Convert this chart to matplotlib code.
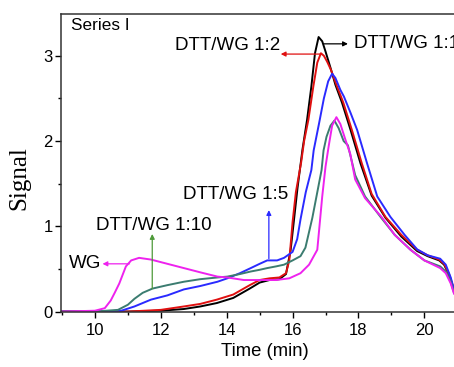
import matplotlib
matplotlib.use("Agg")
import matplotlib.pyplot as plt
from matplotlib.ticker import MultipleLocator

# data (time in min, signal)
t_11 = [9.0, 10.0, 11.0, 12.0, 12.7, 13.2, 13.7, 14.2, 14.7, 15.0, 15.3, 15.6, 15.8,
        15.94, 16.05, 16.15, 16.22, 16.3, 16.44, 16.57, 16.68, 16.79, 16.9, 17.0,
        17.15, 17.3, 17.5, 17.76, 18.06, 18.4, 18.82, 19.3, 19.78, 20.1, 20.45,
        20.6, 20.75, 20.9]
s_11 = [0.0, 0.0, 0.0, 0.01, 0.03, 0.06, 0.1, 0.16, 0.27, 0.34, 0.37, 0.38, 0.44,
        0.72, 1.1, 1.45, 1.66, 1.9, 2.25, 2.64, 3.03, 3.22, 3.17, 3.05,
        2.86, 2.66, 2.45, 2.13, 1.74, 1.36, 1.1, 0.88, 0.71, 0.65, 0.6,
        0.55, 0.43, 0.25]

t_12 = [9.0, 10.0, 11.0, 12.0, 12.7, 13.2, 13.7, 14.2, 14.7, 15.0, 15.3, 15.6, 15.8,
        15.9, 16.0, 16.1, 16.26, 16.35, 16.48, 16.63, 16.75, 16.86, 16.95, 17.05,
        17.17, 17.33, 17.54, 17.8, 18.1, 18.4, 18.82, 19.3, 19.78, 20.1, 20.45,
        20.6, 20.75, 20.9]
s_12 = [0.0, 0.0, 0.0, 0.02, 0.06, 0.09, 0.14, 0.2, 0.31, 0.37, 0.39, 0.4, 0.45,
        0.6, 1.05, 1.4, 1.75, 2.0, 2.25, 2.64, 2.92, 3.03, 3.0, 2.93,
        2.83, 2.66, 2.45, 2.13, 1.74, 1.38, 1.11, 0.9, 0.725, 0.66, 0.61,
        0.56, 0.44, 0.26]

t_15 = [9.0, 10.0, 10.8, 11.2, 11.7, 12.2, 12.7, 13.2, 13.72, 14.02, 14.4, 14.73,
        15.0, 15.23, 15.53, 15.74, 16.0, 16.14, 16.24, 16.4, 16.57, 16.64, 16.8,
        16.95, 17.08, 17.2, 17.3, 17.45, 17.56, 17.76, 17.96, 18.26, 18.57, 18.97,
        19.4, 19.78, 20.1, 20.48, 20.65, 20.8, 20.9]
s_15 = [0.0, 0.0, 0.01, 0.06, 0.14, 0.19, 0.26, 0.3, 0.35, 0.39, 0.45, 0.51,
        0.56, 0.6, 0.6, 0.63, 0.7, 0.85, 1.08, 1.4, 1.66, 1.89, 2.2,
        2.5, 2.7, 2.79, 2.74, 2.6, 2.52, 2.33, 2.13, 1.74, 1.35, 1.11,
        0.9, 0.73, 0.66, 0.62, 0.55, 0.4, 0.26]

t_110 = [9.0, 10.0, 10.7, 11.0, 11.2, 11.45, 11.75, 12.2, 12.7, 13.2, 13.72, 14.02,
         14.4, 14.73, 15.0, 15.23, 15.5, 15.74, 16.0, 16.24, 16.39, 16.6, 16.75,
         16.88, 16.94, 17.03, 17.15, 17.27, 17.4, 17.55, 17.68, 17.9, 18.2, 18.67,
         19.1, 19.58, 20.0, 20.48, 20.65, 20.8, 20.9]
s_110 = [0.0, 0.0, 0.02, 0.08, 0.15, 0.22, 0.27, 0.31, 0.35, 0.38, 0.4, 0.41,
         0.44, 0.47, 0.49, 0.51, 0.53, 0.55, 0.6, 0.65, 0.75, 1.1, 1.4,
         1.66, 1.89, 2.05, 2.18, 2.24, 2.15, 2.0, 1.95, 1.6, 1.35, 1.11,
         0.9, 0.725, 0.6, 0.53, 0.47, 0.35, 0.22]

t_wg = [9.0, 10.0, 10.3, 10.48, 10.6, 10.74, 10.94, 11.1, 11.34, 11.7, 12.2, 12.7,
        13.2, 13.72, 14.02, 14.52, 15.0, 15.5, 15.9, 16.24, 16.5, 16.75, 16.9,
        17.0, 17.1, 17.2, 17.33, 17.45, 17.6, 17.75, 17.9, 18.2, 18.7, 19.1,
        19.58, 20.0, 20.48, 20.65, 20.8, 20.9]
s_wg = [0.0, 0.01, 0.04, 0.13, 0.22, 0.33, 0.53, 0.6, 0.63, 0.61, 0.56, 0.51,
        0.46, 0.41, 0.4, 0.37, 0.37, 0.37, 0.39, 0.45, 0.55, 0.725, 1.35,
        1.7, 1.95, 2.18, 2.28, 2.2, 2.02, 1.85, 1.55, 1.33, 1.11, 0.9,
        0.725, 0.6, 0.51, 0.45, 0.33, 0.21]

series = [
    (t_11, s_11, "black"),
    (t_12, s_12, "#e01010"),
    (t_15, s_15, "#2a2aff"),
    (t_110, s_110, "#3b7c70"),
    (t_wg, s_wg, "#ee22ee"),
]

plt.rcParams["font.family"] = ["Liberation Sans", "DejaVu Sans"]

fig = plt.figure(figsize=(4.54, 3.67), dpi=100)
ax = fig.add_axes([61 / 454, 1 - 312 / 367, 1 - 61 / 454, (312 - 14) / 367])

for t, s, c in series:
    ax.plot(t, s, color=c, lw=1.4)

ax.set_xlim(8.97, 20.9)
ax.set_ylim(-0.005, 3.49)
ax.xaxis.set_major_locator(MultipleLocator(2))
ax.xaxis.set_minor_locator(MultipleLocator(1))
ax.yaxis.set_major_locator(MultipleLocator(1))
ax.yaxis.set_minor_locator(MultipleLocator(0.5))
ax.tick_params(which="major", direction="out", length=4, width=1, labelsize=12, pad=4)
ax.tick_params(which="minor", direction="out", length=2.5, width=1)
ax.tick_params(axis="y", pad=2)
ax.spines["right"].set_visible(False)
for sp in ["left", "top", "bottom"]:
    ax.spines[sp].set_color("#333333")
    ax.spines[sp].set_linewidth(1.1)

ax.set_xlabel("Time (min)", fontsize=13.3)
ax.xaxis.set_label_coords(0.519, -0.105)
ax.set_ylabel("Signal", fontsize=18, family="Liberation Serif")
ax.yaxis.set_label_coords(-0.078, 0.45)

ax.text(9.27, 3.36, "Series I", fontsize=12.3, va="center", ha="left")

fs = 13.5
arrow = dict(arrowstyle="-|>", lw=0.9, mutation_scale=7, shrinkA=0, shrinkB=0)
# DTT/WG 1:2 (red arrow, pointing left)
ax.annotate("", xy=(15.64, 3.02), xytext=(16.88, 3.02),
            arrowprops=dict(arrow, color="#e01010"))
ax.text(15.63, 3.12, "DTT/WG 1:2", fontsize=fs, va="center", ha="right")
# DTT/WG 1:1 (black arrow, pointing right)
ax.annotate("", xy=(17.68, 3.14), xytext=(16.95, 3.14),
            arrowprops=dict(arrow, color="black"))
ax.text(17.85, 3.14, "DTT/WG 1:1", fontsize=fs, va="center", ha="left")
# DTT/WG 1:5 (blue arrow, up)
ax.annotate("", xy=(15.28, 1.19), xytext=(15.28, 0.62),
            arrowprops=dict(arrow, color="#2a2aff"))
ax.text(15.88, 1.37, "DTT/WG 1:5", fontsize=fs, va="center", ha="right")
# DTT/WG 1:10 (green arrow, up)
ax.annotate("", xy=(11.74, 0.91), xytext=(11.74, 0.27),
            arrowprops=dict(arrow, color="#4e9a3a"))
ax.text(10.03, 1.01, "DTT/WG 1:10", fontsize=fs, va="center", ha="left")
# WG (magenta arrow, left)
ax.annotate("", xy=(10.23, 0.56), xytext=(11.05, 0.56),
            arrowprops=dict(arrow, color="#ee22ee"))
ax.text(10.18, 0.56, "WG", fontsize=fs, va="center", ha="right")

fig.savefig("out.png", dpi=100)
